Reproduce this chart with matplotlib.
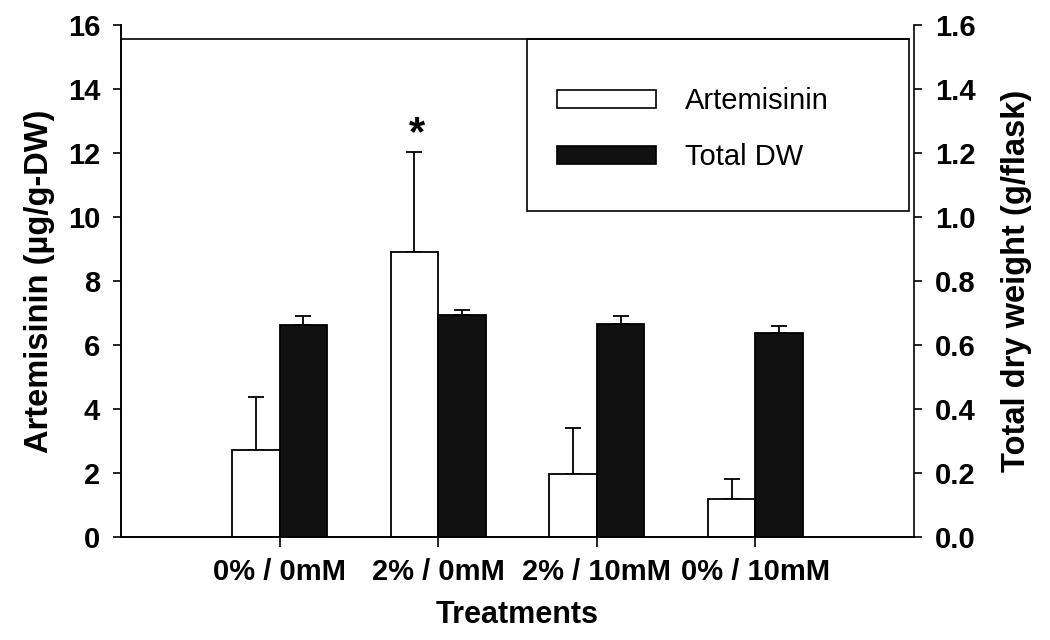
import matplotlib
matplotlib.use("Agg")
import matplotlib.pyplot as plt
from matplotlib.patches import Patch, Rectangle
import numpy as np

plt.rcParams['font.family'] = ['Liberation Sans', 'DejaVu Sans']

treatments = ['0% / 0mM', '2% / 0mM', '2% / 10mM', '0% / 10mM']
artemisinin = [2.73, 8.91, 1.98, 1.20]
artemisinin_err = [1.66, 3.13, 1.44, 0.61]
total_dw = [0.663, 0.693, 0.667, 0.639]
total_dw_err = [0.028, 0.018, 0.024, 0.020]

x = np.arange(len(treatments))
w = 0.3

fig = plt.figure(figsize=(10.5, 6.4), dpi=100)
ax = fig.add_axes([0.1152, 0.1609, 0.7553, 0.8])
ax2 = ax.twinx()

# artemisinin (left axis)
ax.bar(x - w / 2, artemisinin, w, color='white', edgecolor='black', linewidth=1.3, zorder=2)
ax.errorbar(x - w / 2, artemisinin, yerr=[np.zeros(4), artemisinin_err], fmt='none',
            ecolor='black', elinewidth=1.3, capsize=6, capthick=1.3, zorder=1)

# total dry weight (right axis)
ax2.bar(x + w / 2, total_dw, w, color='#111111', edgecolor='black', linewidth=1.3, zorder=2)
ax2.errorbar(x + w / 2, total_dw, yerr=[np.zeros(4), total_dw_err], fmt='none',
             ecolor='black', elinewidth=1.3, capsize=6, capthick=1.3, zorder=1)

ax.set_xlim(-1, 4)
ax.set_ylim(0, 16)
ax2.set_ylim(0, 1.6)
ax.set_yticks(np.arange(0, 17, 2))
ax2.set_yticks(np.arange(0, 1.61, 0.2))
ax2.set_yticklabels([f"{v:.1f}" for v in np.arange(0, 1.61, 0.2)])
ax.set_xticks(x)
ax.set_xticklabels(treatments, fontsize=21, fontweight='bold')

for a in (ax, ax2):
    a.spines['top'].set_visible(False)
    for s in a.spines.values():
        s.set_linewidth(1.2)
ax.spines['right'].set_visible(False)

ax.tick_params(axis='y', direction='out', length=6, width=1.2, pad=9, labelsize=21)
ax.tick_params(axis='x', direction='out', length=7, width=1.2, pad=8)
ax2.tick_params(axis='y', direction='out', length=6, width=1.2, pad=9, labelsize=21)
for lab in ax.get_yticklabels() + ax2.get_yticklabels():
    lab.set_fontweight('bold')

ax.set_ylabel('Artemisinin (µg/g-DW)', fontsize=23.5, fontweight='bold', labelpad=9)
ax2.set_ylabel('Total dry weight (g/flask)', fontsize=23.5, fontweight='bold', labelpad=18)
ax.set_xlabel('Treatments', fontsize=22, fontweight='bold', labelpad=10)

# significance mark
ax.text(0.866, 12.6, '*', fontsize=30, fontweight='bold', ha='center', va='center')

# top line + legend box
ax.plot([-1, 3.97], [15.55, 15.55], color='black', linewidth=1.2, clip_on=False)
ax.add_patch(Rectangle((1.56, 10.2), 3.97 - 1.56, 15.55 - 10.2, fill=False,
                       edgecolor='black', linewidth=1.2, zorder=3))

handles = [Patch(facecolor='white', edgecolor='black', linewidth=1.2),
           Patch(facecolor='#111111', edgecolor='black', linewidth=1.2)]
ax.legend(handles, ['Artemisinin', 'Total DW'], loc='upper left',
          bbox_to_anchor=(1.749, 14.05), bbox_transform=ax.transData,
          frameon=False, borderpad=0, borderaxespad=0, handlelength=3.4,
          handleheight=0.6, handletextpad=1.0, labelspacing=0.95, fontsize=21)

fig.savefig('out.png', dpi=100)
